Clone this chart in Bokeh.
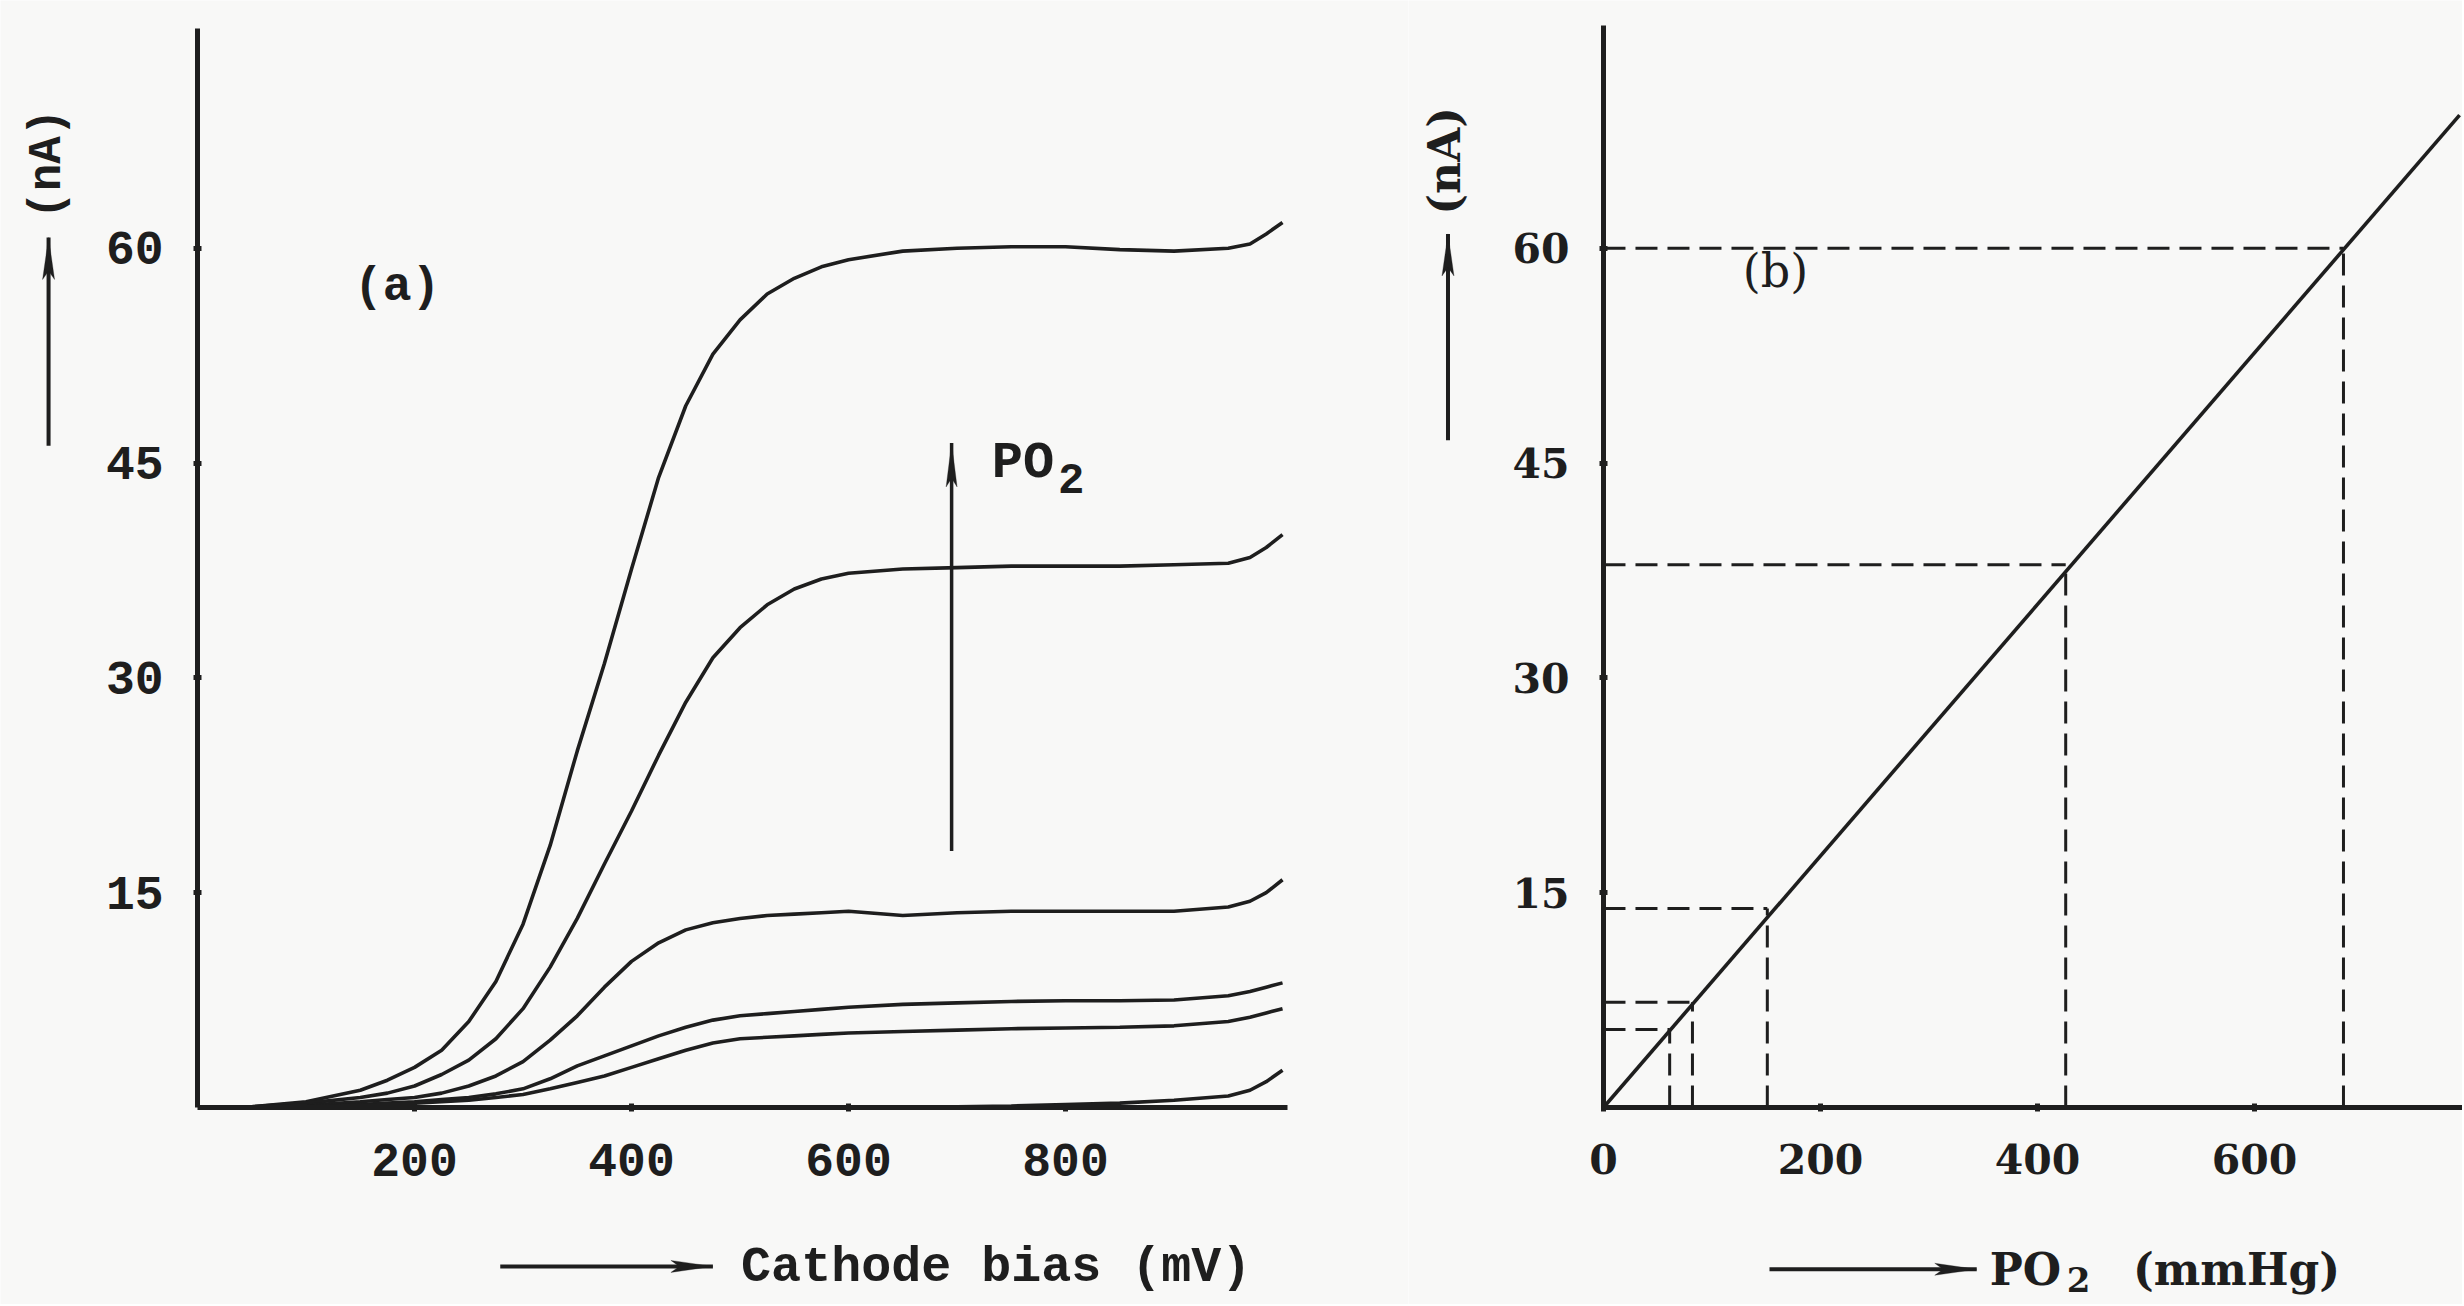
import math
from bokeh.plotting import figure
from bokeh.models import Range1d, FixedTicker, Label, Arrow, PolyAnnotation, LinearAxis
from bokeh.layouts import row
from bokeh.embed import file_html
from bokeh.resources import INLINE

# ---------------- data ----------------
bias_mV = [25, 50, 100, 150, 175, 200, 225, 250, 275, 300, 325, 350, 375, 400,
           425, 450, 475, 500, 525, 550, 575, 600, 650, 700, 750, 800, 850, 900,
           950, 970, 985, 1000]
current_c1 = [0, 0.05, 0.4, 1.2, 1.9, 2.8, 4.0, 6.0, 8.8, 12.8, 18.3, 24.9, 31.0, 37.6,
              44.0, 49.0, 52.6, 55.0, 56.8, 57.9, 58.7, 59.2, 59.8, 60.0, 60.1, 60.1, 59.9, 59.8,
              60.0, 60.3, 61.0, 61.8]
current_c2 = [0, 0.05, 0.3, 0.7, 1.0, 1.5, 2.3, 3.3, 4.8, 6.9, 9.8, 13.2, 17.0, 20.7,
              24.6, 28.3, 31.4, 33.5, 35.1, 36.2, 36.9, 37.3, 37.6, 37.7, 37.8, 37.8, 37.8, 37.9,
              38.0, 38.4, 39.1, 40.0]
current_c3 = [0, 0.02, 0.15, 0.4, 0.55, 0.7, 1.0, 1.5, 2.2, 3.2, 4.7, 6.4, 8.4, 10.2,
              11.5, 12.4, 12.9, 13.2, 13.4, 13.5, 13.6, 13.7, 13.4, 13.6, 13.7, 13.7, 13.7, 13.7,
              14.0, 14.4, 15.0, 15.9]
current_c4 = [0, 0.02, 0.1, 0.2, 0.3, 0.4, 0.55, 0.7, 0.95, 1.3, 2.0, 2.9, 3.6, 4.3,
              5.0, 5.6, 6.1, 6.4, 6.55, 6.7, 6.85, 7.0, 7.2, 7.3, 7.4, 7.45, 7.45, 7.5,
              7.8, 8.1, 8.4, 8.7]
current_c5 = [0, 0.01, 0.05, 0.15, 0.2, 0.3, 0.4, 0.5, 0.7, 0.9, 1.3, 1.75, 2.2, 2.8,
              3.4, 4.0, 4.5, 4.8, 4.9, 5.0, 5.1, 5.2, 5.3, 5.4, 5.5, 5.55, 5.6, 5.7,
              6.0, 6.3, 6.6, 6.9]
current_c6 = [0, 0, 0, 0, 0, 0, 0, 0, 0, 0, 0, 0, 0, 0,
              0, 0, 0, 0, 0, 0, 0, 0, 0, 0.05, 0.1, 0.2, 0.3, 0.5,
              0.8, 1.2, 1.8, 2.6]
curves_a = [current_c1, current_c2, current_c3, current_c4, current_c5, current_c6]

# panel (b): calibration
line_po2 = [0, 789]
line_current = [0, 69.3]
point_po2 = [61, 82, 151, 426, 682]
point_current = [5.45, 7.35, 13.9, 37.9, 60.0]

ticks_a_x = [200, 400, 600, 800]
ticks_b_x = [0, 200, 400, 600]
ticks_y = [15, 30, 45, 60]

# ---------------- style ----------------
INK = "#1e1e1e"
BG = "#f8f8f7"
MONO = "Liberation Mono"
SERIF = "DejaVu Serif"
PX_X = 1.085   # px per data unit on x (both panels)
PX_Y = 14.32   # px per nA


def make_axes(p, xbounds, ybounds, xticks, font, size):
    p.background_fill_color = BG
    p.border_fill_color = BG
    p.outline_line_color = None
    p.grid.visible = False
    xa = LinearAxis(fixed_location=0, bounds=xbounds, ticker=FixedTicker(ticks=xticks))
    ya = LinearAxis(fixed_location=0, bounds=ybounds, ticker=FixedTicker(ticks=ticks_y))
    for ax in (xa, ya):
        ax.axis_line_color = INK
        ax.axis_line_width = 5
        ax.major_tick_line_color = INK
        ax.major_tick_line_width = 5
        ax.major_tick_in = 4
        ax.major_tick_out = 4
        ax.minor_tick_line_color = None
        ax.major_label_text_font = font
        ax.major_label_text_font_size = size
        ax.major_label_text_font_style = "bold"
        ax.major_label_text_color = INK
    xa.major_label_standoff = 33
    ya.major_label_standoff = 30
    p.add_layout(xa, "below")
    p.add_layout(ya, "left")


def arrow(p, x0, y0, x1, y1, head_len=42, head_w=12, width=4):
    p.add_layout(Arrow(end=None, x_start=x0, y_start=y0, x_end=x1, y_end=y1,
                       line_color=INK, line_width=width))
    dx = (x1 - x0) * PX_X
    dy = (y1 - y0) * PX_Y
    L = math.hypot(dx, dy)
    ux, uy = dx / L, dy / L
    nx, ny = -uy, ux
    pts = [(0, 0),
           (-head_len * ux + nx * head_w / 2, -head_len * uy + ny * head_w / 2),
           (-head_len * 0.8 * ux, -head_len * 0.8 * uy),
           (-head_len * ux - nx * head_w / 2, -head_len * uy - ny * head_w / 2)]
    p.add_layout(PolyAnnotation(xs=[x1 + a / PX_X for a, b in pts],
                                ys=[y1 + b / PX_Y for a, b in pts],
                                fill_color=INK, fill_alpha=1.0,
                                line_color=INK, line_width=1))


def label(p, x, y, text, font, size, align="left", baseline="middle", angle=0.0, style_="bold"):
    p.add_layout(Label(x=x, y=y, text=text, text_font=font, text_font_size=size,
                       text_font_style=style_, text_color=INK, text_align=align,
                       text_baseline=baseline, angle=angle))


# ---------------- panel (a) ----------------
pa = figure(width=1408, height=1304, output_backend="svg", toolbar_location=None,
            x_range=Range1d(-181.6, 1116.1), y_range=Range1d(-13.76, 77.3),
            x_axis_location=None, y_axis_location=None, min_border=0)
make_axes(pa, (0, 1005), (0, 75.35), ticks_a_x, MONO, "48px")
for c in curves_a:
    pa.line(bias_mV, c, line_color=INK, line_width=3.6)

label(pa, 184, 57.3, "(a)", MONO, "48px", align="center")
arrow(pa, 695, 17.9, 695, 46.4, head_len=44, head_w=11, width=3.5)
label(pa, 732, 45.0, "PO", MONO, "52px")
label(pa, 793, 43.9, "2", MONO, "44px")
# y-axis caption
arrow(pa, -137.3, 46.2, -137.3, 60.75)
label(pa, -137.5, 65.9, "(nA)", MONO, "46px", align="center", angle=math.pi / 2)
# x-axis caption
arrow(pa, 279, -11.1, 475, -11.1)
label(pa, 501, -11.2, "Cathode bias (mV)", MONO, "50px")

# ---------------- panel (b) ----------------
pb = figure(width=1054, height=1304, output_backend="svg", toolbar_location=None,
            x_range=Range1d(-179.7, 791.7), y_range=Range1d(-13.76, 77.3),
            x_axis_location=None, y_axis_location=None, min_border=0)
make_axes(pb, (0, 791.7), (0, 75.56), ticks_b_x, SERIF, "41px")
zeros = [0] * len(point_po2)
pb.segment(x0=zeros, y0=point_current, x1=point_po2, y1=point_current,
           line_color=INK, line_width=3, line_dash="22 10")
pb.segment(x0=point_po2, y0=zeros, x1=point_po2, y1=point_current,
           line_color=INK, line_width=3, line_dash="22 10")
pb.line(line_po2, line_current, line_color=INK, line_width=3.6)

label(pb, 158.5, 58.4, "(b)", SERIF, "46px", align="center", style_="normal")
arrow(pb, -143.3, 46.6, -143.3, 61.0)
label(pb, -146.5, 66.1, "(nA)", SERIF, "44px", align="center", angle=math.pi / 2)
arrow(pb, 153, -11.3, 344, -11.3)
label(pb, 356, -11.3, "PO", SERIF, "44px")
label(pb, 427, -12.0, "2", SERIF, "34px")
label(pb, 488, -11.3, "(mmHg)", SERIF, "44px")

layout = row(pa, pb)
html = file_html(layout, INLINE)
html = html.replace("<body>", '<body style="background-color:#f8f8f7;">', 1)
open("out.html", "w").write(html)
